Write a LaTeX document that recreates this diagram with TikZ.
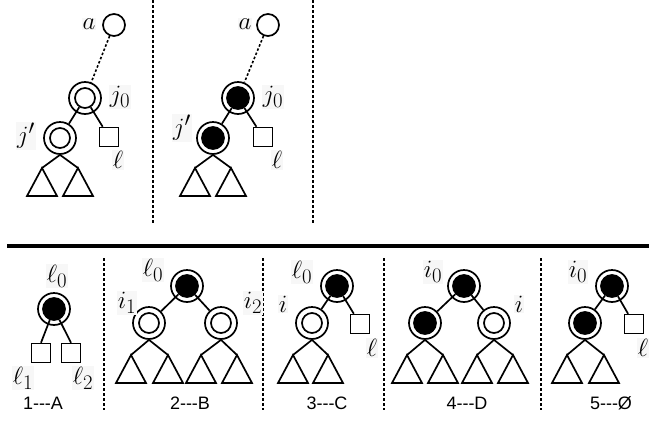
\documentclass[tikz,border=0pt]{standalone}
\usepackage{fontspec}
\setsansfont{Liberation Sans}
\begin{document}
\begin{tikzpicture}[x=1pt,y=-1pt,
  edgeln/.style={line width=1.7pt},
  outerc/.style={circle,draw,line width=1.7pt,minimum size=32pt,inner sep=0pt},
  innerw/.style={circle,draw,line width=1.7pt,minimum size=20pt,inner sep=0pt},
  innerb/.style={circle,draw,fill=black,line width=1.7pt,minimum size=22pt,inner sep=0pt},
  plainc/.style={circle,draw,line width=1.7pt,minimum size=22pt,inner sep=0pt},
  leafbox/.style={rectangle,draw,line width=1.5pt,minimum size=19pt,inner sep=0pt},
  lbl/.style={font=\Huge,fill=black!3,inner sep=1pt},
  captext/.style={font=\sffamily\fontsize{18}{21}\selectfont,inner sep=0pt},
  sepline/.style={line width=1.8pt,dash pattern=on 3pt off 2pt},
  dotline/.style={line width=1.6pt,dash pattern=on 2.5pt off 2pt}]
\useasboundingbox (0,0) rectangle (649,421);

% separators
\draw[sepline] (153,0) -- (153,224);
\draw[sepline] (313,0) -- (313,224);
\draw[line width=4pt] (7,246) -- (649,246);
\draw[sepline] (104,258) -- (104,410);
\draw[sepline] (263,258) -- (263,410);
\draw[sepline] (384,258) -- (384,410);
\draw[sepline] (541,258) -- (541,410);

% ===== top left =====
\node[plainc] (a1) at (114,25) {};
\node[lbl] (a1l) at (89,24) {$a$};
\node[outerc] (j1) at (85,98) {};
\node[innerw] (j1i) at (85,98) {};
\node[lbl] (j1l) at (120,97) {$j_0$};
\node[outerc] (jp1) at (60,138) {};
\node[innerw] (jp1i) at (60,138) {};
\node[lbl] (jp1l) at (26,136) {$j'$};
\node[leafbox] (l1) at (109,137) {};
\node[lbl] (l1l) at (118,160) {$\ell$};
\coordinate (t1a) at (42,168);
\coordinate (t1b) at (78,168);
\draw[dotline] (a1) -- (j1);
\draw[edgeln] (j1i) -- (jp1);
\draw[edgeln] (j1i) -- (l1);
\draw[edgeln] (jp1.south) -- (t1a);
\draw[edgeln] (jp1.south) -- (t1b);
\draw[edgeln] (t1a) -- ++(-15,28) -- ++(30,0) -- cycle;
\draw[edgeln] (t1b) -- ++(-15,28) -- ++(30,0) -- cycle;

% ===== top middle =====
\node[plainc] (a2) at (268,25) {};
\node[lbl] (a2l) at (245,24) {$a$};
\node[outerc] (j2) at (238,98) {};
\node[innerb] (j2i) at (238,98) {};
\node[lbl] (j2l) at (273,97) {$j_0$};
\node[outerc] (jp2) at (213,138) {};
\node[innerb] (jp2i) at (213,138) {};
\node[lbl] (jp2l) at (182,128) {$j'$};
\node[leafbox] (l2) at (263,137) {};
\node[lbl] (l2l) at (277,160) {$\ell$};
\coordinate (t2a) at (195,168);
\coordinate (t2b) at (231,168);
\draw[dotline] (a2) -- (j2);
\draw[edgeln] (j2i) -- (jp2);
\draw[edgeln] (j2i) -- (l2);
\draw[edgeln] (jp2.south) -- (t2a);
\draw[edgeln] (jp2.south) -- (t2b);
\draw[edgeln] (t2a) -- ++(-15,28) -- ++(30,0) -- cycle;
\draw[edgeln] (t2b) -- ++(-15,28) -- ++(30,0) -- cycle;

% ===== panel 1 =====
\node[outerc] (r1) at (54,309) {};
\node[innerb] (r1i) at (54,309) {};
\node[lbl] (r1l) at (57,276) {$\ell_0$};
\node[leafbox] (s1a) at (41,353) {};
\node[leafbox] (s1b) at (71,353) {};
\node[lbl] (s1al) at (23,378) {$\ell_1$};
\node[lbl] (s1bl) at (83,378) {$\ell_2$};
\node[captext] (c1) at (43,403) {1{-}{-}{-}A};
\draw[edgeln] (r1i) -- (s1a.north);
\draw[edgeln] (r1i) -- (s1b.north);

% ===== panel 2 =====
\node[outerc] (r2) at (187,286) {};
\node[innerb] (r2i) at (187,286) {};
\node[lbl] (r2l) at (153,270) {$\ell_0$};
\node[outerc] (p2a) at (149,323) {};
\node[innerw] (p2ai) at (149,323) {};
\node[lbl] (p2al) at (127,303) {$i_1$};
\node[outerc] (p2b) at (221,323) {};
\node[innerw] (p2bi) at (221,323) {};
\node[lbl] (p2bl) at (253,303) {$i_2$};
\coordinate (t3a) at (131,355);
\coordinate (t3b) at (168,355);
\coordinate (t3c) at (201,355);
\coordinate (t3d) at (237,355);
\draw[edgeln] (r2i) -- (p2a);
\draw[edgeln] (r2i) -- (p2b);
\draw[edgeln] (p2a.south) -- (t3a);
\draw[edgeln] (p2a.south) -- (t3b);
\draw[edgeln] (p2b.south) -- (t3c);
\draw[edgeln] (p2b.south) -- (t3d);
\foreach \t in {t3a,t3b,t3c,t3d}
  \draw[edgeln] (\t) -- ++(-15,28) -- ++(30,0) -- cycle;
\node[captext] (c2) at (190,403) {2{-}{-}{-}B};

% ===== panel 3 =====
\node[outerc] (r3) at (337,286) {};
\node[innerb] (r3i) at (337,286) {};
\node[lbl] (r3l) at (302,272) {$\ell_0$};
\node[outerc] (p3a) at (312,323) {};
\node[innerw] (p3ai) at (312,323) {};
\node[lbl] (p3al) at (283,304) {$i$};
\node[leafbox] (s3) at (360,324) {};
\node[lbl] (s3l) at (372,348) {$\ell$};
\coordinate (t4a) at (293,355);
\coordinate (t4b) at (328,355);
\draw[edgeln] (r3i) -- (p3a);
\draw[edgeln] (r3i) -- (s3);
\draw[edgeln] (p3a.south) -- (t4a);
\draw[edgeln] (p3a.south) -- (t4b);
\foreach \t in {t4a,t4b}
  \draw[edgeln] (\t) -- ++(-15,28) -- ++(30,0) -- cycle;
\node[captext] (c3) at (327,403) {3{-}{-}{-}C};

% ===== panel 4 =====
\node[outerc] (r4) at (464,286) {};
\node[innerb] (r4i) at (464,286) {};
\node[lbl] (r4l) at (433,272) {$i_0$};
\node[outerc] (p4a) at (425,323) {};
\node[innerb] (p4ai) at (425,323) {};
\node[outerc] (p4b) at (494,323) {};
\node[innerw] (p4bi) at (494,323) {};
\node[lbl] (p4bl) at (519,304) {$i$};
\coordinate (t5a) at (407,355);
\coordinate (t5b) at (443,355);
\coordinate (t5c) at (477,355);
\coordinate (t5d) at (513,355);
\draw[edgeln] (r4i) -- (p4a);
\draw[edgeln] (r4i) -- (p4b);
\draw[edgeln] (p4a.south) -- (t5a);
\draw[edgeln] (p4a.south) -- (t5b);
\draw[edgeln] (p4b.south) -- (t5c);
\draw[edgeln] (p4b.south) -- (t5d);
\foreach \t in {t5a,t5b,t5c,t5d}
  \draw[edgeln] (\t) -- ++(-15,28) -- ++(30,0) -- cycle;
\node[captext] (c4) at (467,403) {4{-}{-}{-}D};

% ===== panel 5 =====
\node[outerc] (r5) at (612,286) {};
\node[innerb] (r5i) at (612,286) {};
\node[lbl] (r5l) at (578,272) {$i_0$};
\node[outerc] (p5a) at (585,323) {};
\node[innerb] (p5ai) at (585,323) {};
\node[leafbox] (s5) at (634,324) {};
\node[lbl] (s5l) at (643,348) {$\ell$};
\coordinate (t6a) at (567,355);
\coordinate (t6b) at (604,355);
\draw[edgeln] (r5i) -- (p5a);
\draw[edgeln] (r5i) -- (s5);
\draw[edgeln] (p5a.south) -- (t6a);
\draw[edgeln] (p5a.south) -- (t6b);
\foreach \t in {t6a,t6b}
  \draw[edgeln] (\t) -- ++(-15,28) -- ++(30,0) -- cycle;
\node[captext] (c5) at (611,403) {5{-}{-}{-}Ø};
\end{tikzpicture}
\end{document}
